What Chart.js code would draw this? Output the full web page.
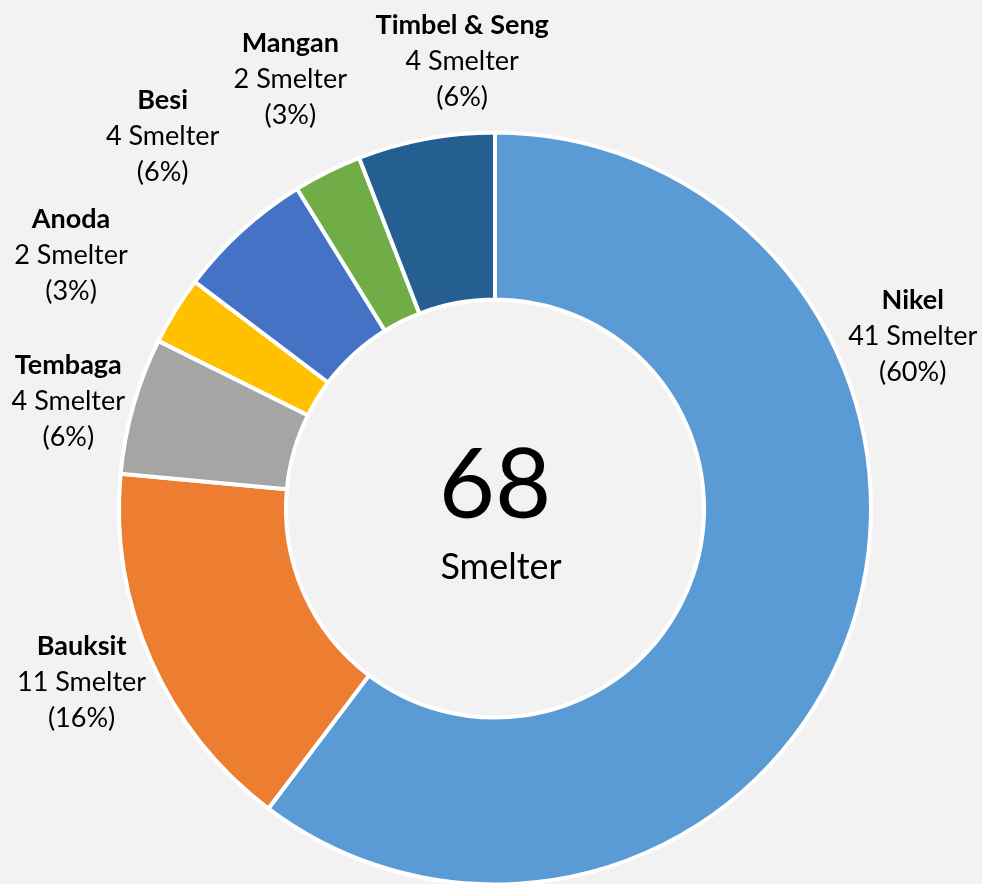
<!DOCTYPE html>
<html>
<head>
<meta charset="utf-8">
<script src="https://cdn.jsdelivr.net/npm/chart.js@4.4.1/dist/chart.umd.min.js"></script>
<style>
  html, body { margin: 0; padding: 0; background: #f2f2f2; overflow: hidden; }
  #wrap { width: 982px; height: 890px; }
</style>
</head>
<body>
<div id="wrap"><canvas id="donut" width="982" height="890"></canvas></div>
<script>
const categories = ['Nikel', 'Bauksit', 'Tembaga', 'Anoda', 'Besi', 'Mangan', 'Timbel & Seng'];
const smelterCounts = [41, 11, 4, 2, 4, 2, 4];
const unitLabel = 'Smelter';

const sliceColors = ['#5b9bd5', '#ed7d31', '#a5a5a5', '#ffc000', '#4472c4', '#70ad47', '#255e91'];

// where each label sits: turn from the slice middle (deg) and distance as a share of the radius
const labelSpots = [
  { turn: -41.1, dist: 1.203 },
  { turn: 1.1, dist: 1.192 },
  { turn: -1.6, dist: 1.171 },
  { turn: -0.8, dist: 1.315 },
  { turn: 0.7, dist: 1.330 },
  { turn: 1.0, dist: 1.266 },
  { turn: 6.4, dist: 1.194 }
];

const total = smelterCounts.reduce((a, b) => a + b, 0);

const sliceLabels = {
  id: 'sliceLabels',
  afterDraw(chart) {
    const ctx = chart.ctx;
    const arcs = chart.getDatasetMeta(0).data;
    const size = 27;
    const lineGap = 36;
    ctx.save();
    ctx.fillStyle = '#000';
    ctx.textAlign = 'center';
    ctx.textBaseline = 'alphabetic';
    arcs.forEach((arc, i) => {
      const spot = labelSpots[i];
      const mid = (arc.startAngle + arc.endAngle) / 2 + spot.turn * Math.PI / 180;
      const r = arc.outerRadius * spot.dist;
      const x = arc.x + Math.cos(mid) * r;
      const y = arc.y + Math.sin(mid) * r + size * 0.36;
      const pct = Math.round(smelterCounts[i] / total * 100);
      ctx.font = 'bold ' + size + 'px Lato';
      ctx.fillText(categories[i], x, y - lineGap);
      ctx.font = size + 'px Lato';
      ctx.fillText(smelterCounts[i] + ' ' + unitLabel, x, y);
      ctx.fillText('(' + pct + '%)', x, y + lineGap);
    });

    // total in the hole
    const c = arcs[0];
    ctx.font = '97px Lato';
    ctx.fillText(String(total), c.x, c.y + 9);
    ctx.font = '36px Lato';
    ctx.fillText(unitLabel, c.x + 6, c.y + 70);
    ctx.restore();
  }
};

new Chart(document.getElementById('donut'), {
  type: 'doughnut',
  data: {
    labels: categories,
    datasets: [{
      data: smelterCounts,
      backgroundColor: sliceColors,
      borderColor: '#ffffff',
      borderWidth: 4
    }]
  },
  options: {
    responsive: false,
    animation: false,
    cutout: '55.6%',
    layout: { padding: { left: 117, right: 109, top: 130, bottom: 3 } },
    plugins: {
      legend: { display: false },
      tooltip: { enabled: false }
    }
  },
  plugins: [sliceLabels]
});
</script>
</body>
</html>
